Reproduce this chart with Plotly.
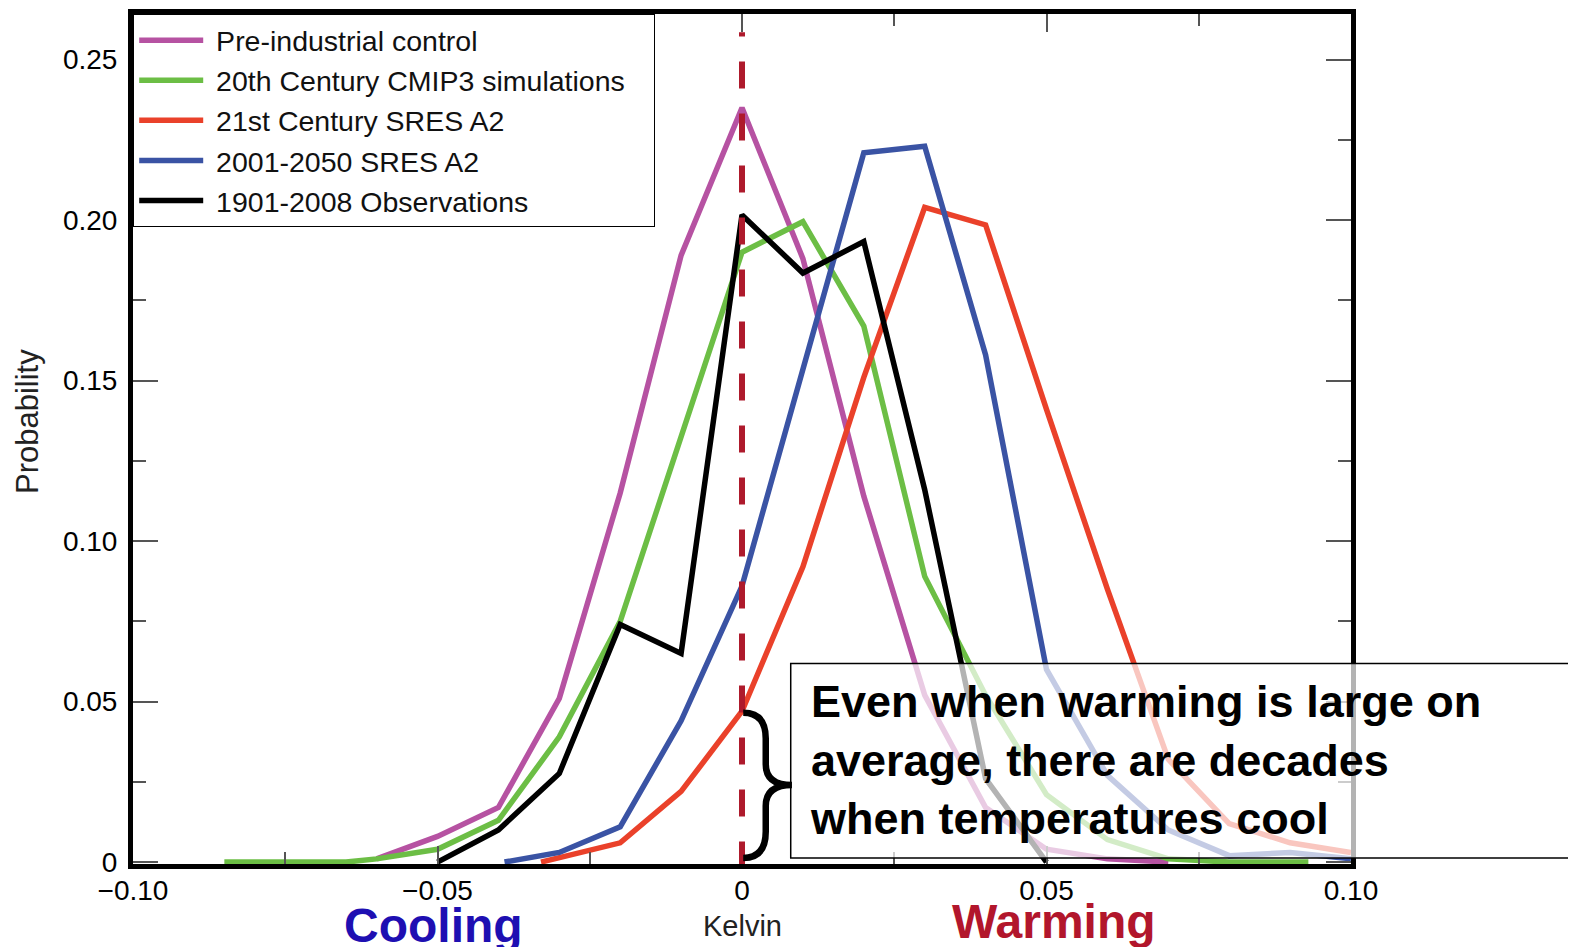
import plotly.graph_objects as go

# ---- data ----
names = ["Pre-industrial control", "20th Century CMIP3 simulations",
         "21st Century SRES A2", "2001-2050 SRES A2", "1901-2008 Observations"]
colors = ["#B652A2", "#6CBE45", "#EA412A", "#3A53A4", "#000000"]

x_pre = [-0.06, -0.05, -0.04, -0.03, -0.02, -0.01, 0.0, 0.01, 0.02, 0.03, 0.04, 0.05, 0.06, 0.07]
y_pre = [0.001, 0.008, 0.017, 0.051, 0.115, 0.189, 0.235, 0.188, 0.114, 0.052, 0.017, 0.004, 0.001, 0.0]

x_20c = [-0.085, -0.065, -0.06, -0.05, -0.04, -0.03, -0.02, -0.01, 0.0, 0.01, 0.02, 0.03, 0.04, 0.05, 0.06, 0.07, 0.08, 0.093]
y_20c = [0.0, 0.0, 0.001, 0.004, 0.013, 0.039, 0.075, 0.132, 0.190, 0.1995, 0.167, 0.089, 0.052, 0.021, 0.007, 0.001, 0.0, 0.0]

x_21c = [-0.033, -0.02, -0.01, 0.0, 0.01, 0.02, 0.03, 0.04, 0.05, 0.06, 0.07, 0.08, 0.09, 0.10]
y_21c = [0.0, 0.006, 0.022, 0.047, 0.092, 0.151, 0.204, 0.1985, 0.141, 0.085, 0.032, 0.012, 0.006, 0.003]

x_2050 = [-0.039, -0.03, -0.02, -0.01, 0.0, 0.01, 0.02, 0.03, 0.04, 0.05, 0.06, 0.07, 0.08, 0.09, 0.10]
y_2050 = [0.0, 0.003, 0.011, 0.044, 0.086, 0.154, 0.221, 0.223, 0.158, 0.060, 0.027, 0.010, 0.002, 0.003, 0.001]

x_obs = [-0.05, -0.04, -0.03, -0.02, -0.01, 0.0, 0.01, 0.02, 0.03, 0.04, 0.05]
y_obs = [0.0, 0.010, 0.0276, 0.074, 0.065, 0.2016, 0.1835, 0.1933, 0.116, 0.026, 0.0]

xs = [x_pre, x_20c, x_21c, x_2050, x_obs]
ys = [y_pre, y_20c, y_21c, y_2050, y_obs]

x_tickvals = [-0.10, -0.05, 0.0, 0.05, 0.10]
x_ticktext = ["\u22120.10", "\u22120.05", "0", "0.05", "0.10"]
y_tickvals = [0.0, 0.05, 0.10, 0.15, 0.20, 0.25]
y_ticktext = ["0", "0.05", "0.10", "0.15", "0.20", "0.25"]

note_text = "Even when warming is large on<br>average, there are decades<br>when temperatures cool"

# ---- figure ----
fig = go.Figure()
for i, (n, c, x, y) in enumerate(zip(names, colors, xs, ys)):
    fig.add_trace(go.Scatter(x=x, y=y, mode="lines",
                             name="\u00a0" + n + "\u00a0\u00a0\u00a0",
                             legendgroup=f"g{i}",
                             line=dict(color=c, width=5.5)))

FONT = "Liberation Sans, Arial, Helvetica, sans-serif"

fig.update_layout(
    width=1576, height=947,
    margin=dict(l=125, r=233, t=6, b=91, autoexpand=False),
    paper_bgcolor="white", plot_bgcolor="white",
    font=dict(family=FONT, size=26, color="black"),
    showlegend=True,
    legend=dict(x=0, y=1, xanchor="left", yanchor="top",
                bgcolor="white", bordercolor="black", borderwidth=1.2,
                font=dict(family=FONT, size=28.5, color="#111"),
                itemwidth=64, traceorder="grouped", tracegroupgap=0),
)

axis_common = dict(showline=True, linewidth=5, linecolor="black", mirror="ticks",
                   showgrid=False, zeroline=False, ticks="inside", automargin=False,
                   tickcolor="#555", tickwidth=1.5,
                   tickfont=dict(family=FONT, size=28, color="black"))
fig.update_xaxes(range=[-0.10, 0.10], tickvals=x_tickvals, ticktext=x_ticktext, ticklen=18,
                 ticklabelstandoff=-3,
                 minor=dict(ticks="inside", dtick=0.025, tick0=0, ticklen=12,
                            tickcolor="#555", tickwidth=1.5),
                 **axis_common)
fig.update_yaxes(range=[-0.0006, 0.2642], tickvals=y_tickvals, ticktext=y_ticktext, ticklen=25,
                 ticklabelstandoff=5,
                 minor=dict(ticks="inside", dtick=0.025, tick0=0, ticklen=13,
                            tickcolor="#555", tickwidth=1.5),
                 **axis_common)

# dashed zero line
fig.add_shape(type="line", xref="x", yref="y", x0=0, x1=0, y0=-0.002, y1=0.2585,
              line=dict(color="#AE1A2C", width=6, dash="27px,25px"), layer="above")

# translucent annotation box
fig.add_shape(type="rect", xref="paper", yref="paper", x0=0.540, x1=1.2, y0=0.007, y1=0.236,
              fillcolor="rgba(255,255,255,0.7)", line=dict(color="black", width=1.5), layer="above")

# curly brace
brace = ("M 0.0002,0.0465 Q 0.0039,0.0465 0.0039,0.0385 L 0.0039,0.0305 "
         "Q 0.0039,0.0240 0.0082,0.0240 Q 0.0039,0.0240 0.0039,0.0175 "
         "L 0.0039,0.0095 Q 0.0039,0.0013 0.0002,0.0013")
fig.add_shape(type="path", xref="x", yref="y", path=brace,
              line=dict(color="black", width=6.5), layer="above")

fig.add_annotation(xref="paper", yref="paper", x=0.554, y=0.122, xanchor="left", yanchor="middle",
                   align="left", text="<b>" + note_text + "</b>", showarrow=False,
                   font=dict(family=FONT, size=45, color="black"))

fig.add_annotation(xref="x", yref="paper", x=-0.0506, y=-0.072, text="<b>Cooling</b>", showarrow=False,
                   font=dict(family=FONT, size=48, color="#1E0FB2"), yanchor="middle")
fig.add_annotation(xref="x", yref="paper", x=0.0512, y=-0.068, text="<b>Warming</b>", showarrow=False,
                   font=dict(family=FONT, size=48, color="#B2162C"), yanchor="middle")
fig.add_annotation(xref="x", yref="paper", x=0.0, y=-0.073, text="Kelvin", showarrow=False,
                   font=dict(family=FONT, size=29, color="#222"), yanchor="middle")
fig.add_annotation(xref="paper", yref="paper", x=-0.087, y=0.52, text="Probability", showarrow=False,
                   textangle=-90, font=dict(family=FONT, size=31, color="#222"),
                   xanchor="center", yanchor="middle")

fig.write_html("out.html")
